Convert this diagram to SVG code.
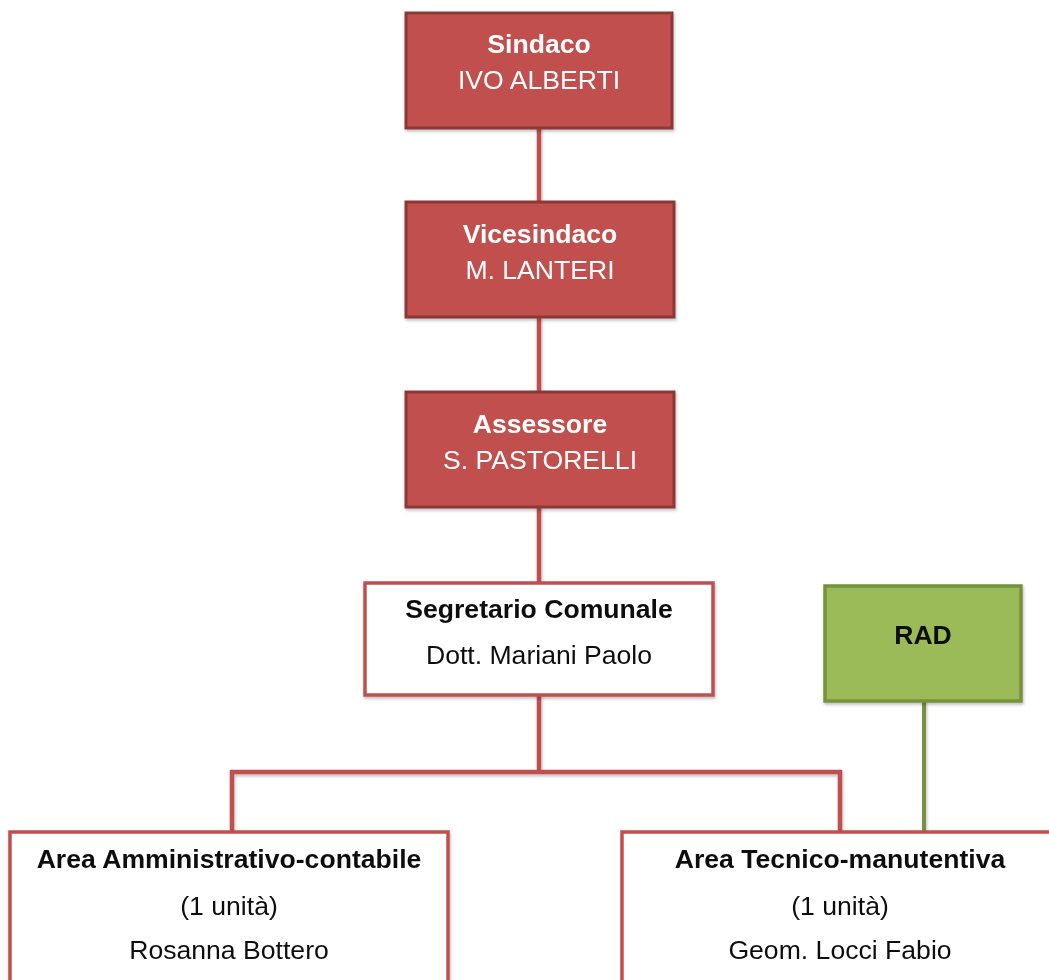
<svg xmlns="http://www.w3.org/2000/svg" width="1049" height="980" viewBox="0 0 1049 980">
<defs>
<style>
.red{fill:#c0504d;stroke:#8c3836;stroke-width:3}
.white{fill:#ffffff;stroke:#c0504d;stroke-width:3.5}
.green{fill:#9bbb59;stroke:#76923c;stroke-width:3.5}
.conn{fill:none;stroke:#c0504d;stroke-width:4.5;stroke-linejoin:miter}
.gconn{fill:none;stroke:#76923c;stroke-width:4}
text{font-family:"Liberation Sans",Arial,sans-serif;font-size:26.6px;text-anchor:middle}
.b{font-weight:bold}
.w{fill:#ffffff}
.k{fill:#111111}
</style>
<filter id="sh" x="-5%" y="-5%" width="115%" height="115%">
<feDropShadow dx="1" dy="2" stdDeviation="1.5" flood-color="#000" flood-opacity="0.25"/>
</filter>
</defs>
<rect width="1049" height="980" fill="#ffffff"/>
<g id="connectors" filter="url(#sh)">
<path class="conn" d="M539 127 V202 M539 317 V392 M539 507 V583"/>
<path class="conn" d="M539 695 V772 M232 832 V772 H840 V832"/>
<path class="gconn" d="M924 701 V832"/>
</g>
<g id="sindaco" filter="url(#sh)">
<rect class="red" x="406" y="13" width="266" height="115"/>
<text class="b w" x="539" y="53">Sindaco</text>
<text class="w" x="539" y="89">IVO ALBERTI</text>
</g>
<g id="vicesindaco" filter="url(#sh)">
<rect class="red" x="406" y="202" width="268" height="115"/>
<text class="b w" x="540" y="243">Vicesindaco</text>
<text class="w" x="540" y="279">M. LANTERI</text>
</g>
<g id="assessore" filter="url(#sh)">
<rect class="red" x="406" y="392" width="268" height="115"/>
<text class="b w" x="540" y="433">Assessore</text>
<text class="w" x="540" y="469">S. PASTORELLI</text>
</g>
<g id="segretario" filter="url(#sh)">
<rect class="white" x="365" y="583" width="348" height="112"/>
<text class="b k" x="539" y="618">Segretario Comunale</text>
<text class="k" x="539" y="664">Dott. Mariani Paolo</text>
</g>
<g id="rad" filter="url(#sh)">
<rect class="green" x="825" y="586" width="196" height="115"/>
<text class="b k" x="923" y="644">RAD</text>
</g>
<g id="area-amministrativa" filter="url(#sh)">
<rect class="white" x="10" y="832" width="438" height="170"/>
<text class="b k" x="229" y="868">Area Amministrativo-contabile</text>
<text class="k" x="229" y="915">(1 unità)</text>
<text class="k" x="229" y="959">Rosanna Bottero</text>
</g>
<g id="area-tecnica" filter="url(#sh)">
<rect class="white" x="622" y="832" width="440" height="170"/>
<text class="b k" x="840" y="868">Area Tecnico-manutentiva</text>
<text class="k" x="840" y="915">(1 unità)</text>
<text class="k" x="840" y="959">Geom. Locci Fabio</text>
</g>
</svg>
